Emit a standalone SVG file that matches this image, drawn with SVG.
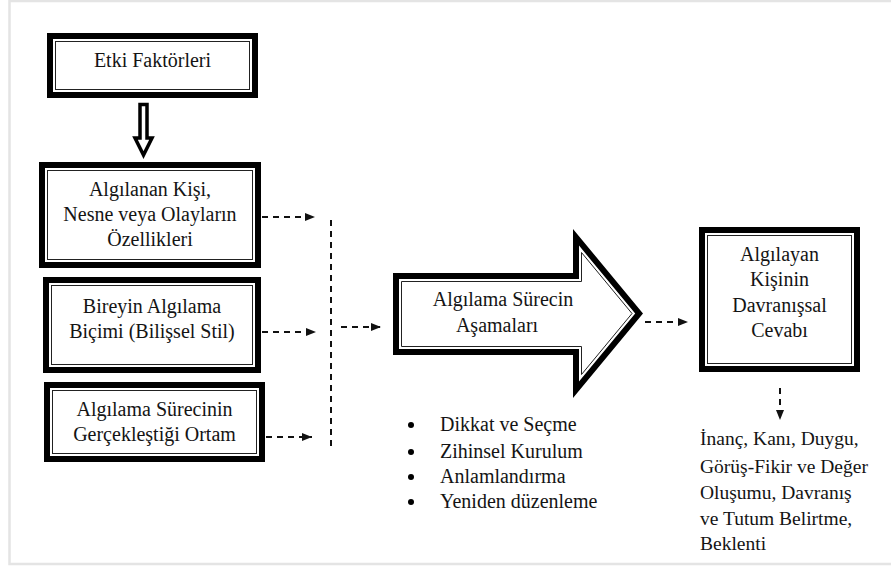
<svg xmlns="http://www.w3.org/2000/svg" width="891" height="570" viewBox="0 0 891 570">
  <defs>
    <style>
      .t { font-family: "Liberation Serif", "Times New Roman", serif; font-size: 20px; fill: #141414; }
      .s { font-size: 19.5px; }
      .c { text-anchor: middle; }
      .frame { fill: none; stroke: #000; stroke-width: 6; }
      .inner { fill: none; stroke: #222; stroke-width: 1; }
      .dash { fill: none; stroke: #111; stroke-width: 2; stroke-dasharray: 6 5; }
    </style>
    <marker id="ah" viewBox="0 0 10 8" refX="10" refY="4" markerWidth="10" markerHeight="8" markerUnits="userSpaceOnUse" orient="auto">
      <path d="M0,0 L10,4 L0,8 Z" fill="#111"/>
    </marker>
  </defs>

  <rect width="891" height="570" fill="#fff"/>
  <!-- page edge -->
  <path d="M892,1 H9.5 V564 H892" fill="none" stroke="#e4e4e4" stroke-width="2.5"/>

  <!-- source box -->
  <g id="etki">
    <rect class="frame" x="50" y="36" width="205" height="59"/>
    <rect class="inner" x="55.5" y="41.5" width="194" height="48"/>
    <text class="t c" x="152.5" y="67">Etki Faktörleri</text>
  </g>

  <!-- hollow down arrow -->
  <g id="down-arrow">
    <path d="M140,104.5 H147 V138 H152 L143.5,155 L135,138 H140 Z" fill="#fff" stroke="#000" stroke-width="3.5" stroke-linejoin="miter"/>
  </g>

  <g id="algilanan">
    <rect class="frame" x="42" y="165" width="216" height="100"/>
    <rect class="inner" x="47.5" y="170.5" width="205" height="89"/>
    <text class="t c" x="150" y="196">Algılanan Kişi,</text>
    <text class="t c" x="150" y="221">Nesne veya Olayların</text>
    <text class="t c" x="150" y="246">Özellikleri</text>
  </g>

  <g id="bireyin">
    <rect class="frame" x="46" y="280" width="212" height="90"/>
    <rect class="inner" x="51.5" y="285.5" width="201" height="79"/>
    <text class="t c" x="152" y="313">Bireyin Algılama</text>
    <text class="t c" x="152" y="338">Biçimi (Bilişsel Stil)</text>
  </g>

  <g id="ortam">
    <rect class="frame" x="47" y="385" width="215" height="74"/>
    <rect class="inner" x="52.5" y="390.5" width="204" height="63"/>
    <text class="t c" x="154.5" y="416">Algılama Sürecinin</text>
    <text class="t c" x="154.5" y="441">Gerçekleştiği Ortam</text>
  </g>

  <!-- block arrow -->
  <g id="asamalar">
    <polygon points="393,273 573,273 573,229 643,313.5 573,398 573,355 393,355" fill="#000"/>
    <polygon points="399,279 579,279 579,245.6 635.2,313.5 579,381.4 579,349 399,349" fill="#fff"/>
    <polygon class="inner" points="401.5,281.5 581.5,281.5 581.5,252.5 632,313.5 581.5,374.5 581.5,346.5 401.5,346.5"/>
    <text class="t c" x="503" y="306">Algılama Sürecin</text>
    <text class="t c" x="497" y="332">Aşamaları</text>
  </g>

  <g id="cevap">
    <rect class="frame" x="702" y="230" width="155" height="139"/>
    <rect class="inner" x="707.5" y="235.5" width="144" height="128"/>
    <text class="t c" x="779.5" y="261">Algılayan</text>
    <text class="t c" x="779.5" y="286">Kişinin</text>
    <text class="t c" x="779.5" y="311.5">Davranışsal</text>
    <text class="t c" x="779.5" y="337">Cevabı</text>
  </g>

  <g id="asama-listesi">
    <circle cx="411" cy="425" r="3"/>
    <circle cx="411" cy="452" r="3"/>
    <circle cx="411" cy="477" r="3"/>
    <circle cx="411" cy="502" r="3"/>
    <text class="t" x="440" y="431">Dikkat ve Seçme</text>
    <text class="t" x="440" y="458">Zihinsel Kurulum</text>
    <text class="t" x="440" y="483">Anlamlandırma</text>
    <text class="t" x="440" y="508">Yeniden düzenleme</text>
  </g>

  <g id="sonuclar">
    <text class="t s" x="700" y="445">İnanç, Kanı, Duygu,</text>
    <text class="t s" x="700" y="473">Görüş-Fikir ve Değer</text>
    <text class="t s" x="700" y="499">Oluşumu, Davranış</text>
    <text class="t s" x="700" y="525">ve Tutum Belirtme,</text>
    <text class="t s" x="700" y="550">Beklenti</text>
  </g>

  <g id="connectors">
    <path class="dash" d="M262,217 H315" marker-end="url(#ah)"/>
    <path class="dash" d="M262,332 H316" marker-end="url(#ah)"/>
    <path class="dash" d="M266,437 H312" marker-end="url(#ah)"/>
    <path class="dash" d="M331,220 V450"/>
    <path class="dash" d="M341,327 H381" marker-end="url(#ah)"/>
    <path class="dash" d="M645,322 H688" marker-end="url(#ah)"/>
    <path class="dash" d="M780,388 V420" marker-end="url(#ah)"/>
  </g>
</svg>
